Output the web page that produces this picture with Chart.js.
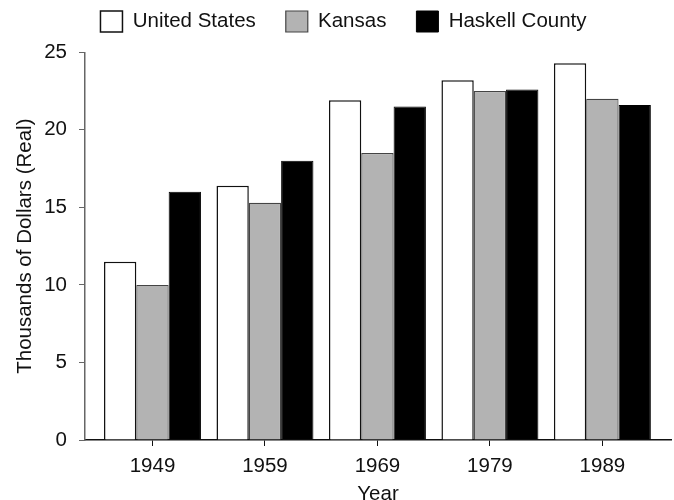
<!DOCTYPE html>
<html>
<head>
<meta charset="utf-8">
<script src="https://cdn.jsdelivr.net/npm/chart.js@4"></script>
<style>
  html, body { margin: 0; padding: 0; background: #fff; }
  #wrap { width: 674px; height: 500px; }
</style>
</head>
<body>
<div id="wrap"><canvas id="myChart"></canvas></div>
<script>
'use strict';

const years = [1949, 1959, 1969, 1979, 1989];
const unitedStates = [11.5, 16.4, 21.9, 23.2, 24.3];
const kansas = [10.0, 15.3, 18.5, 22.5, 22.0];
const haskell = [16.0, 18.0, 21.5, 22.6, 21.6];
const yTicks = [0, 5, 10, 15, 20, 25];

Chart.defaults.font.family = '"Liberation Sans", Arial, sans-serif';
Chart.defaults.font.size = 20.5;
Chart.defaults.color = '#111';

function puntos(values) {
	return years.map((y, i) => ({ x: y, y: values[i] }));
}

// la leyenda necesita mas separacion horizontal que vertical
const alturaLeyenda = {
	id: 'alturaLeyenda',
	beforeInit(chart) {
		const fit = chart.legend.fit;
		chart.legend.fit = function () {
			fit.call(this);
			this.height = 71.3;
		};
	}
};

const ctx = document.getElementById('myChart');

new Chart(ctx, {
	type: 'bar',
	data: {
		datasets: [{
			label: 'United States',
			data: puntos(unitedStates),
			backgroundColor: '#ffffff',
			borderColor: '#111111',
			borderWidth: 1.5,
		}, {
			label: 'Kansas',
			data: puntos(kansas),
			backgroundColor: '#b3b3b3',
			borderColor: '#444444',
			borderWidth: 1.2,
		}, {
			label: 'Haskell County',
			data: puntos(haskell),
			backgroundColor: '#000000',
			borderColor: '#000000',
			borderWidth: 1,
		}]
	},
	plugins: [alturaLeyenda],
	options: {
		responsive: true,
		maintainAspectRatio: false,
		animation: false,
		layout: { padding: { left: 16, right: 3, top: -19, bottom: 0 } },
		datasets: {
			bar: { categoryPercentage: 0.862, barPercentage: 1.0 }
		},
		plugins: {
			legend: {
				position: 'top',
				labels: {
					boxWidth: 22,
					boxHeight: 21,
					padding: 30,
					color: '#111',
				}
			},
			tooltip: { enabled: false },
		},
		scales: {
			x: {
				type: 'linear',
				min: 1943,
				max: 1995.1,
				offset: false,
				afterBuildTicks: (s) => { s.ticks = years.map(v => ({ value: v })); },
				afterFit: (s) => { s.height = 60; },
				ticks: {
					padding: 8,
					color: '#111',
					callback: (v) => String(v),
				},
				grid: {
					offset: false,
					drawOnChartArea: false,
					drawTicks: true,
					tickLength: 6,
					color: '#111',
				},
				border: { display: true, color: '#111', width: 1.5 },
				title: {
					display: true,
					text: 'Year',
					color: '#111',
					padding: { top: 0, bottom: -7 },
				},
			},
			y: {
				min: 0,
				max: 25,
				afterBuildTicks: (s) => { s.ticks = yTicks.map(v => ({ value: v })); },
				afterFit: (s) => { s.width = 69; },
				ticks: { padding: 12, color: '#111' },
				grid: {
					drawOnChartArea: false,
					drawTicks: true,
					tickLength: 6,
					color: '#666',
				},
				border: { display: true, color: '#666', width: 1.5 },
				title: {
					display: true,
					text: 'Thousands of Dollars (Real)',
					color: '#111',
					padding: { top: -3, bottom: 0 },
				},
			}
		}
	}
});
</script>
</body>
</html>
